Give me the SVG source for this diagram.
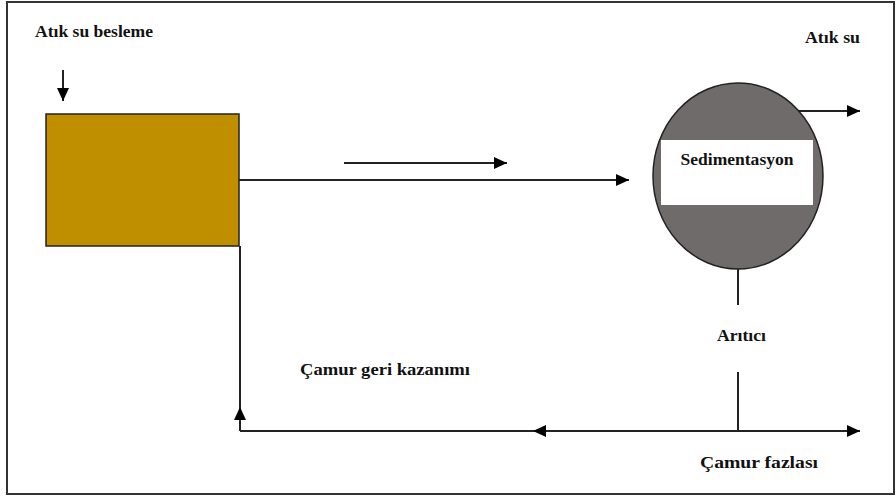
<svg xmlns="http://www.w3.org/2000/svg" width="896" height="497" viewBox="0 0 896 497">
<style>
.t{font-family:"Liberation Serif","Times New Roman",serif;font-weight:bold;font-size:16.5px;fill:#111}
.ln{stroke:#222;stroke-width:2;fill:none}
</style>
<defs>
<marker id="ah" viewBox="0 0 13 12" refX="13" refY="6" markerWidth="13" markerHeight="12" markerUnits="userSpaceOnUse" orient="auto">
<path d="M0,0 L13,6 L0,12 Z" fill="#000"/>
</marker>
</defs>
<rect x="0" y="0" width="896" height="497" fill="#fff"/>
<rect x="7" y="2" width="887" height="492" fill="#fff" stroke="#333" stroke-width="2"/>
<g id="tank">
<rect x="46" y="114" width="193" height="132" fill="#C08F00" stroke="#222" stroke-width="1.5"/>
</g>
<g id="clarifier">
<ellipse cx="738" cy="176" rx="85" ry="93" fill="#6F6B6B" stroke="#222" stroke-width="1.5"/>
<rect x="661" y="140" width="152" height="65" fill="#fff"/>
<text class="t" x="737" y="165" text-anchor="middle" textLength="113" lengthAdjust="spacingAndGlyphs">Sedimentasyon</text>
</g>
<g id="labels">
<text class="t" x="35" y="37" textLength="118" lengthAdjust="spacingAndGlyphs">Atık su besleme</text>
<text class="t" x="805" y="43" textLength="55" lengthAdjust="spacingAndGlyphs">Atık su</text>
<text class="t" x="717" y="341" textLength="49" lengthAdjust="spacingAndGlyphs">Arıtıcı</text>
<text class="t" x="300" y="375" textLength="170" lengthAdjust="spacingAndGlyphs">Çamur geri kazanımı</text>
<text class="t" x="700" y="468" textLength="118" lengthAdjust="spacingAndGlyphs">Çamur fazlası</text>
</g>
<g id="connectors">
<line class="ln" x1="63" y1="70" x2="63" y2="101" marker-end="url(#ah)"/>
<line class="ln" x1="344" y1="163" x2="507" y2="163" marker-end="url(#ah)"/>
<line class="ln" x1="239" y1="180" x2="629" y2="180" marker-end="url(#ah)"/>
<line class="ln" x1="798" y1="111" x2="860" y2="111" marker-end="url(#ah)"/>
<line class="ln" x1="738" y1="269" x2="738" y2="305"/>
<line class="ln" x1="738" y1="372" x2="738" y2="431"/>
<line class="ln" x1="240" y1="431" x2="860" y2="431" marker-end="url(#ah)"/>
<line class="ln" x1="738" y1="431" x2="533" y2="431" marker-end="url(#ah)"/>
<line class="ln" x1="240" y1="246" x2="240" y2="431"/>
<line class="ln" x1="240" y1="431" x2="240" y2="407" marker-end="url(#ah)"/>
</g>
</svg>
